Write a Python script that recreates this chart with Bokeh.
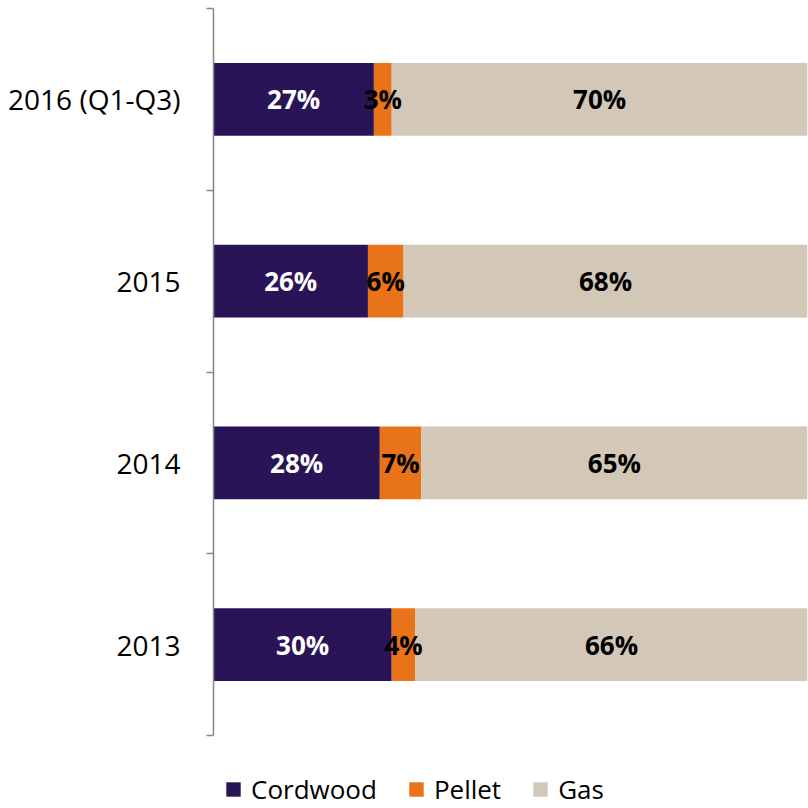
from bokeh.plotting import figure
from bokeh.models import ColumnDataSource, FixedTicker, Legend, LegendItem, Range1d
from bokeh.core.properties import value
from bokeh.embed import file_html
from bokeh.resources import INLINE

categories = ["2013", "2014", "2015", "2016 (Q1-Q3)"]
cordwood = [30, 28, 26, 27]
pellet = [4, 7, 6, 3]
gas = [66, 65, 68, 70]
series_names = ["Cordwood", "Pellet", "Gas"]
colors = ["#2a1458", "#e97318", "#d3c8b7"]
label_colors = ["white", "black", "black"]

FONT = "Open Sans"

# layout (pixels): bar area 727 px tall, 73 px below it reserved for the legend
BAR_AREA_PX = 727
LEGEND_PX = 73
n = len(categories)
y_start = -n * LEGEND_PX / BAR_AREA_PX

p = figure(frame_width=594, frame_height=BAR_AREA_PX + LEGEND_PX,
           output_backend="svg", toolbar_location=None,
           x_range=Range1d(0, 100), y_range=Range1d(y_start, n),
           min_border_left=213, min_border_right=1, min_border_top=8, min_border_bottom=0)
p.outline_line_color = None
p.xgrid.visible = False
p.ygrid.visible = False
p.xaxis.visible = False
p.background_fill_color = "white"

ys = [i + 0.5 for i in range(n)]
series = [cordwood, pellet, gas]
left = [0] * n
items = []
sources = []
for name, vals, col in zip(series_names, series, colors):
    right = [l + v for l, v in zip(left, vals)]
    mids = [l + v / 2 for l, v in zip(left, vals)]
    src = ColumnDataSource(dict(y=ys, left=left, right=right, mid=mids,
                                lab=[f"{v}%" for v in vals]))
    sources.append(src)
    r = p.hbar(y="y", left="left", right="right", height=0.4, source=src,
               fill_color=col, line_color=None)
    items.append(LegendItem(label=name, renderers=[r]))
    left = right

for src, lc in zip(sources, label_colors):
    p.text(x="mid", y="y", text="lab", source=src, text_align="center",
           text_baseline="middle", text_color=lc, text_font=value(FONT),
           text_font_style="bold", text_font_size="26px")

ax = p.yaxis[0]
ax.bounds = (0, n)
ax.ticker = FixedTicker(ticks=ys, minor_ticks=list(range(n + 1)))
ax.major_label_overrides = {y: c for y, c in zip(ys, categories)}
ax.major_tick_out = 0
ax.major_tick_in = 0
ax.minor_tick_out = 7
ax.minor_tick_in = 0
ax.minor_tick_line_color = "#868686"
ax.axis_line_color = "#868686"
ax.axis_line_width = 1.5
ax.minor_tick_line_width = 1.5
ax.major_label_standoff = 26
ax.major_label_text_font = FONT
ax.major_label_text_font_size = "28px"
ax.major_label_text_color = "black"

legend = Legend(items=items, orientation="horizontal", location=(11, 1),
                label_text_font=FONT, label_text_font_size="26px",
                label_text_color="black",
                glyph_width=18, glyph_height=18, label_standoff=9, spacing=30,
                border_line_color=None, background_fill_alpha=0, padding=0, margin=0)
p.add_layout(legend)

open("out.html", "w").write(file_html(p, INLINE))
